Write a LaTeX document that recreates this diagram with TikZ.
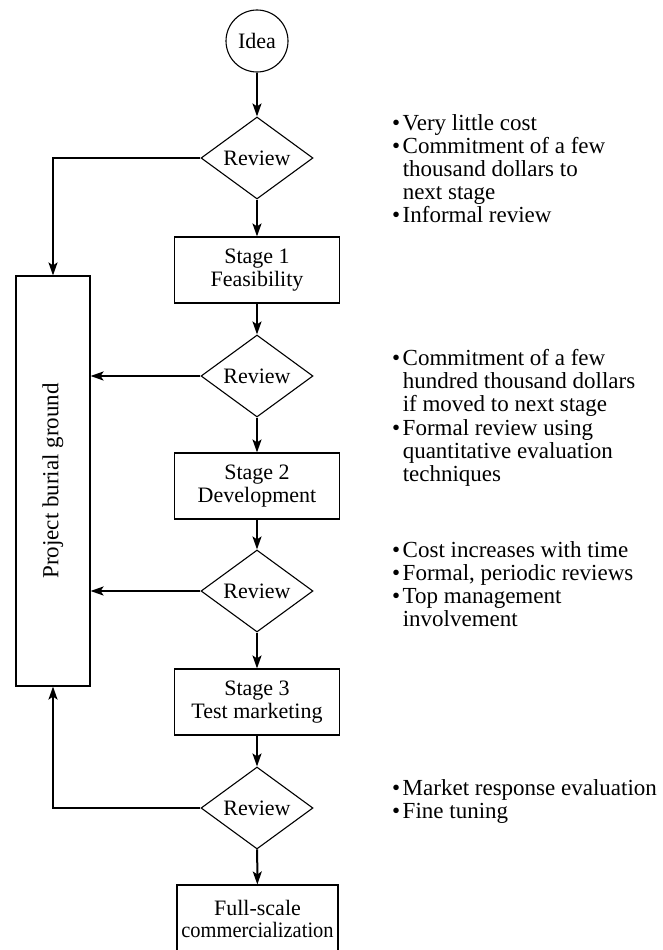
\documentclass[tikz,border=0pt]{standalone}
\usepackage{fontspec}
\usepackage{graphicx}
\setmainfont{Liberation Serif}
\usetikzlibrary{shapes.geometric,arrows.meta}
\begin{document}
\begin{tikzpicture}[x=1pt,y=-1pt,
  every node/.style={font=\fontsize{22}{22.5}\selectfont},
  frame/.style={draw, line width=1.1pt},
  stagebox/.style={frame, rectangle, minimum width=165pt, minimum height=66pt,
    inner sep=0pt, align=center},
  decision/.style={frame, diamond, inner sep=0pt, minimum width=112pt, minimum height=64pt},
  startnode/.style={frame, circle, minimum size=62pt, inner sep=0pt},
  flow/.style={line width=2pt, -{Stealth[length=13pt,width=9pt,inset=3pt]}},
  notes/.style={anchor=base west, inner sep=0pt, align=left,
    font=\fontsize{23}{23.2}\selectfont}
]
\useasboundingbox (0,0) rectangle (663,950);

% main column
\node[startnode] (idea) at (257,41) {Idea};
\node[decision]  (r1)   at (257,158) {Review};
\node[stagebox]  (s1)   at (257,270) {Stage 1\\Feasibility};
\node[decision]  (r2)   at (257,376) {Review};
\node[stagebox]  (s2)   at (257,486) {Stage 2\\Development};
\node[decision]  (r3)   at (257,591) {Review};
\node[stagebox]  (s3)   at (257,702) {Stage 3\\Test marketing};
\node[decision]  (r4)   at (257,808) {Review};
\node[stagebox, minimum width=161pt, minimum height=68pt] (full) at (257.5,919)
  {Full-scale\\\scalebox{0.93}[1]{commercialization}};

% rejected projects
\node[frame, rectangle, minimum width=74pt, minimum height=410pt, inner sep=0pt]
  (burial) at (53,481) {};
\node[rotate=90, inner sep=0pt, font=\fontsize{23}{23.2}\selectfont]
  (burialtext) at (burial.center) {Project burial ground};

% flow
\draw[flow] (idea) -- (r1);
\draw[flow] (r1) -- (s1);
\draw[flow] (s1) -- (r2);
\draw[flow] (r2) -- (s2);
\draw[flow] (s2) -- (r3);
\draw[flow] (r3) -- (s3);
\draw[flow] (s3) -- (r4);
\draw[flow] (r4) -- (full);

\draw[flow] (r1.west) -| (burial.north);
\draw[flow] (r2.west) -- (r2.west -| burial.east);
\draw[flow] (r3.west) -- (r3.west -| burial.east);
\draw[flow] (r4.west) -| (burial.south);

% notes beside each review
\node[notes] (n1) at (392,130) {\begin{tabular}[t]{@{}l@{\hspace{2.5pt}}l@{}}
\textbullet & Very little cost\\
\textbullet & Commitment of a few\\
 & thousand dollars to\\
 & next stage\\
\textbullet & Informal review
\end{tabular}};
\node[notes] (n2) at (392,365.5) {\begin{tabular}[t]{@{}l@{\hspace{2.5pt}}l@{}}
\textbullet & Commitment of a few\\
 & hundred thousand dollars\\
 & if moved to next stage\\
\textbullet & Formal review using\\
 & quantitative evaluation\\
 & techniques
\end{tabular}};
\node[notes] (n3) at (392,557) {\begin{tabular}[t]{@{}l@{\hspace{2.5pt}}l@{}}
\textbullet & Cost increases with time\\
\textbullet & Formal, periodic reviews\\
\textbullet & Top management\\
 & involvement
\end{tabular}};
\node[notes] (n4) at (392,795) {\begin{tabular}[t]{@{}l@{\hspace{2.5pt}}l@{}}
\textbullet & Market response evaluation\\
\textbullet & Fine tuning
\end{tabular}};
\end{tikzpicture}
\end{document}
